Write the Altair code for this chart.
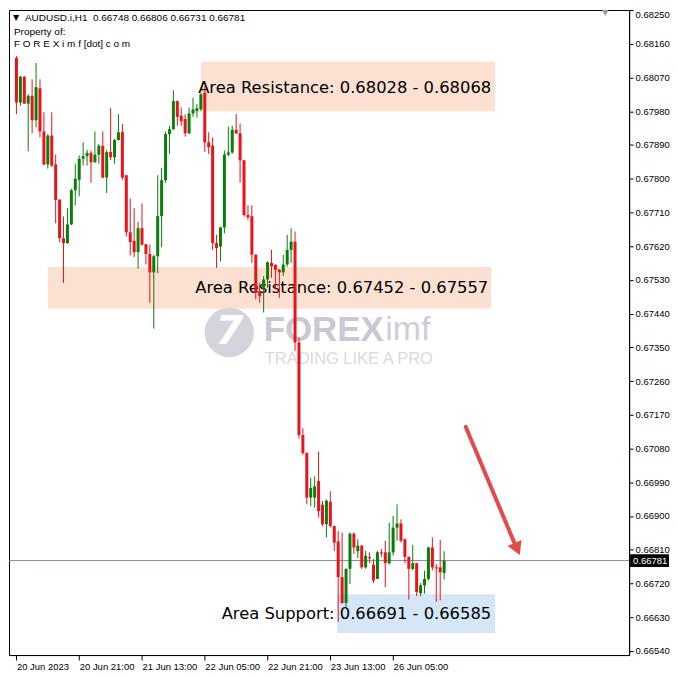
import altair as alt
import pandas as pd

# ---------------- data (AUDUSD.i H1 candles) ----------------
opens = [
    0.68122, 0.68003, 0.68072, 0.68000, 0.68021, 0.67956, 0.68041, 0.67926, 0.67838, 0.67915,
    0.67838, 0.67744, 0.67641, 0.67628, 0.67678, 0.67769, 0.67797, 0.67853, 0.67860, 0.67869,
    0.67844, 0.67864, 0.67888, 0.67803, 0.67871, 0.67857, 0.67903, 0.67924, 0.67809, 0.67657,
    0.67634, 0.67604, 0.67668, 0.67625, 0.67599, 0.67550, 0.67593, 0.67700, 0.67796, 0.67919,
    0.67932, 0.68007, 0.67968, 0.67959, 0.67921, 0.67974, 0.67980, 0.67985, 0.68029, 0.67897,
    0.67888, 0.67628, 0.67619, 0.67670, 0.67864, 0.67870, 0.67930, 0.67921, 0.67849, 0.67703,
    0.67700, 0.67597, 0.67500, 0.67509, 0.67531, 0.67575, 0.67570, 0.67557, 0.67550, 0.67571,
    0.67610, 0.67632, 0.67363, 0.67116, 0.67068, 0.66949, 0.66949, 0.66993, 0.66930, 0.66878,
    0.66938, 0.66873, 0.66832, 0.66737, 0.66668, 0.66759, 0.66853, 0.66806, 0.66821, 0.66763,
    0.66790, 0.66770, 0.66732, 0.66803, 0.66803, 0.66774, 0.66803, 0.66869, 0.66880, 0.66838,
    0.66791, 0.66759, 0.66774, 0.66694, 0.66715, 0.66732, 0.66816, 0.66763, 0.66763, 0.66748]

highs = [
    0.68127, 0.68074, 0.68074, 0.68025, 0.68065, 0.68109, 0.68065, 0.67977, 0.67919, 0.67977,
    0.67864, 0.67745, 0.67699, 0.67721, 0.67773, 0.67840, 0.67862, 0.67897, 0.67877, 0.67875,
    0.67926, 0.67893, 0.67926, 0.67877, 0.67988, 0.67906, 0.67972, 0.67946, 0.67810, 0.67747,
    0.67721, 0.67685, 0.67734, 0.67626, 0.67624, 0.67597, 0.67809, 0.67829, 0.67926, 0.67941,
    0.68036, 0.68008, 0.67990, 0.67972, 0.67990, 0.68016, 0.67999, 0.68029, 0.68046, 0.67924,
    0.67910, 0.67650, 0.67672, 0.67875, 0.67939, 0.67941, 0.67972, 0.67947, 0.67850, 0.67729,
    0.67729, 0.67598, 0.67522, 0.67540, 0.67579, 0.67610, 0.67571, 0.67559, 0.67597, 0.67650,
    0.67668, 0.67659, 0.67376, 0.67134, 0.67070, 0.67002, 0.67006, 0.67072, 0.66940, 0.66944,
    0.66966, 0.66874, 0.66860, 0.66856, 0.66760, 0.66856, 0.66856, 0.66838, 0.66822, 0.66807,
    0.66803, 0.66785, 0.66807, 0.66812, 0.66834, 0.66882, 0.66900, 0.66931, 0.66891, 0.66840,
    0.66792, 0.66823, 0.66775, 0.66721, 0.66754, 0.66818, 0.66843, 0.66772, 0.66836, 0.66806]

lows = [
    0.67972, 0.67994, 0.67999, 0.67873, 0.67921, 0.67937, 0.67910, 0.67835, 0.67827, 0.67831,
    0.67681, 0.67630, 0.67522, 0.67626, 0.67676, 0.67729, 0.67753, 0.67835, 0.67835, 0.67789,
    0.67842, 0.67840, 0.67801, 0.67762, 0.67849, 0.67840, 0.67902, 0.67797, 0.67646, 0.67595,
    0.67591, 0.67560, 0.67621, 0.67571, 0.67469, 0.67400, 0.67548, 0.67617, 0.67789, 0.67866,
    0.67930, 0.67941, 0.67941, 0.67912, 0.67919, 0.67965, 0.67963, 0.67980, 0.67871, 0.67866,
    0.67610, 0.67562, 0.67579, 0.67654, 0.67860, 0.67866, 0.67919, 0.67789, 0.67699, 0.67690,
    0.67575, 0.67478, 0.67469, 0.67443, 0.67509, 0.67535, 0.67504, 0.67482, 0.67540, 0.67565,
    0.67575, 0.67341, 0.67107, 0.67063, 0.66931, 0.66926, 0.66922, 0.66896, 0.66873, 0.66843,
    0.66869, 0.66807, 0.66618, 0.66666, 0.66657, 0.66719, 0.66798, 0.66788, 0.66759, 0.66759,
    0.66774, 0.66721, 0.66732, 0.66791, 0.66710, 0.66770, 0.66794, 0.66834, 0.66829, 0.66774,
    0.66677, 0.66755, 0.66686, 0.66686, 0.66693, 0.66728, 0.66755, 0.66671, 0.66675, 0.66731]

closes = [
    0.68003, 0.68072, 0.68000, 0.68021, 0.67956, 0.68044, 0.67926, 0.67838, 0.67915, 0.67835,
    0.67743, 0.67641, 0.67628, 0.67678, 0.67769, 0.67800, 0.67853, 0.67860, 0.67869, 0.67844,
    0.67864, 0.67888, 0.67803, 0.67871, 0.67857, 0.67903, 0.67924, 0.67803, 0.67657, 0.67631,
    0.67604, 0.67668, 0.67624, 0.67599, 0.67550, 0.67593, 0.67700, 0.67796, 0.67919, 0.67932,
    0.68007, 0.67965, 0.67953, 0.67921, 0.67974, 0.67985, 0.67988, 0.68025, 0.67897, 0.67884,
    0.67628, 0.67615, 0.67670, 0.67864, 0.67870, 0.67930, 0.67921, 0.67849, 0.67703, 0.67697,
    0.67597, 0.67496, 0.67487, 0.67531, 0.67577, 0.67566, 0.67557, 0.67550, 0.67571, 0.67610,
    0.67632, 0.67363, 0.67116, 0.67068, 0.66949, 0.66975, 0.66979, 0.66913, 0.66878, 0.66941,
    0.66873, 0.66829, 0.66737, 0.66668, 0.66759, 0.66853, 0.66816, 0.66821, 0.66763, 0.66794,
    0.66787, 0.66728, 0.66803, 0.66800, 0.66774, 0.66803, 0.66869, 0.66880, 0.66834, 0.66791,
    0.66759, 0.66774, 0.66697, 0.66715, 0.66732, 0.66816, 0.66763, 0.66760, 0.66750, 0.66781]

time_tick_bars = [0, 16, 32, 48, 64, 80, 96]
time_tick_labels = ["20 Jun 2023", "20 Jun 21:00", "21 Jun 13:00", "22 Jun 05:00",
                    "22 Jun 21:00", "23 Jun 13:00", "26 Jun 05:00"]
price_ticks = [0.68250, 0.68160, 0.68070, 0.67980, 0.67890, 0.67800, 0.67710, 0.67620,
               0.67530, 0.67440, 0.67350, 0.67260, 0.67170, 0.67080, 0.66990, 0.66900,
               0.66810, 0.66720, 0.66630, 0.66540]

zone_labels = ["Area Resistance: 0.68028 - 0.68068",
               "Area Resistance: 0.67452 - 0.67557",
               "Area Support: 0.66691 - 0.66585"]
zone_top = [0.68112, 0.67564, 0.66691]
zone_bottom = [0.67980, 0.67453, 0.66588]

last_price = closes[-1]

# ---------------- layout ----------------
W, H = 622, 647
FONT = "Liberation Sans"
UP, DOWN = "#0B7D0B", "#E8131B"

x_scale = alt.Scale(domain=[-0.625, 154.875], nice=False, zero=False)
y_scale = alt.Scale(domain=[0.66529, 0.68250], nice=False, zero=False)

label_arr = "[" + ",".join("'" + s + "'" for s in time_tick_labels) + "]"
x_axis = alt.Axis(values=time_tick_bars, labelExpr=label_arr + "[round(datum.value/16)]",
                  title=None, grid=False, orient="bottom", labelAlign="left",
                  labelBaseline="top", labelFlush=False, labelOverlap=False,
                  tickSize=5, labelPadding=1, domainColor="black", tickColor="black",
                  labelColor="black", labelFont=FONT, labelFontSize=9.5)
y_axis = alt.Axis(values=price_ticks, format=".5f", title=None, grid=False, orient="right",
                  labelFlush=True, labelOverlap=False, tickSize=4, labelPadding=2,
                  domainColor="black", tickColor="black", labelColor="black",
                  labelFont=FONT, labelFontSize=9.5)


def X(field):
    return alt.X(field, type="quantitative", scale=x_scale, axis=x_axis)


def Y(field):
    return alt.Y(field, type="quantitative", scale=y_scale, axis=y_axis)


df = pd.DataFrame({"i": list(range(len(opens))), "open": opens, "high": highs,
                   "low": lows, "close": closes})
df["dir"] = ["up" if c >= o else "down" for o, c in zip(opens, closes)]
df["btop"] = [max(o, c) for o, c in zip(opens, closes)]
df["bbot"] = [min(min(o, c), max(o, c) - 0.00003) for o, c in zip(opens, closes)]

color = alt.Color("dir:N", scale=alt.Scale(domain=["up", "down"], range=[UP, DOWN]), legend=None)

# zone boxes
zones = pd.DataFrame({"label": zone_labels, "top": zone_top, "bottom": zone_bottom,
                      "x1": [47, 8, 81.75], "x2": [122, 121, 122],
                      "tx": [121, 120.25, 121],
                      "ty": [0.68041, 0.67509, 0.66638],
                      "fill": ["#FCE0D2", "#FCE0D2", "#D5E7F7"]})

boxes = alt.Chart(zones).mark_rect().encode(
    x=X("x1"), x2="x2", y=Y("top"), y2="bottom",
    color=alt.Color("fill:N", scale=None))

zone_text = alt.Chart(zones).mark_text(align="right", baseline="middle", font="DejaVu Sans",
                                       fontSize=16.4, color="black").encode(
    x=X("tx"), y=Y("ty"), text="label:N")

# watermark
wm = pd.DataFrame({"x": [54.25], "y": [0.67390]})
wm_circle = alt.Chart(wm).mark_point(shape="circle", filled=True, size=2450,
                                     color="#D4D5DC", opacity=1).encode(x=X("x"), y=Y("y"))
wm_seven = alt.Chart(wm).mark_text(text="7", font="DejaVu Sans", fontWeight="bold",
                                   fontStyle="italic", fontSize=40, color="white",
                                   baseline="middle", align="center").encode(x=X("x"), y=Y("y"))
wm_txt = pd.DataFrame({"x": [63.0, 94.0, 63.3], "y": [0.67395, 0.67395, 0.67318],
                       "t": ["FOREX", "imf", "TRADING LIKE A PRO"],
                       "c": ["#C8C9D2", "#CDCED6", "#D9D9DF"],
                       "w": ["bold", "normal", "normal"],
                       "s": [35, 34, 16.5]})
wm_text = alt.layer(*[
    alt.Chart(wm_txt.iloc[[k]]).mark_text(align="left", baseline="middle", font=FONT,
                                          fontWeight=wm_txt.w[k], fontSize=float(wm_txt.s[k]),
                                          color=wm_txt.c[k]).encode(x=X("x"), y=Y("y"), text="t:N")
    for k in range(3)])

# current price line
pl = pd.DataFrame({"p": [last_price], "ptop": [last_price + 0.00017],
                   "pbot": [last_price - 0.00017], "lbl": ["%.5f" % last_price]})
price_line = alt.Chart(pl).mark_rule(color="#7E8C9C", strokeWidth=1).encode(
    y=Y("p"), x=alt.value(0), x2=alt.value(W))
price_box = alt.Chart(pl).mark_rect(color="black").encode(
    y=Y("ptop"), y2="pbot", x=alt.value(W + 1), x2=alt.value(W + 40))
price_lbl = alt.Chart(pl).mark_text(align="left", baseline="middle", font=FONT, fontSize=9.5,
                                    color="white").encode(
    y=Y("p"), x=alt.value(W + 4), text="lbl:N")

# candles
wicks = alt.Chart(df).mark_rule(strokeWidth=1).encode(x=X("i"), y=Y("low"), y2="high", color=color)
bodies = alt.Chart(df).mark_bar(size=3).encode(x=X("i"), y=Y("btop"), y2="bbot", color=color)

# arrow
arr = pd.DataFrame({"x": [114.5], "y": [0.67138], "x2": [127.0], "y2": [0.66826]})
arrow_line = alt.Chart(arr).mark_rule(color="#E24A4C", strokeWidth=4, strokeCap="round").encode(
    x=X("x"), y=Y("y"), x2="x2", y2="y2")
head = pd.DataFrame({"x": [127.6], "y": [0.66812]})
arrow_head = alt.Chart(head).mark_point(shape="triangle-up", filled=True, size=230, angle=157,
                                        color="#E24A4C", opacity=1).encode(x=X("x"), y=Y("y"))

# header texts
hdr = pd.DataFrame({"a": [0]})
header_line = "AUDUSD.i,H1\u00a0\u00a0%.5f %.5f %.5f %.5f" % (opens[-1], highs[-1], lows[-1], closes[-1])
h_tri = alt.Chart(hdr).mark_text(text="\u25BC", font="DejaVu Sans", fontSize=8, color="black",
                                 align="center", baseline="middle").encode(
    x=alt.value(7), y=alt.value(8))
h1 = alt.Chart(hdr).mark_text(text=header_line, font=FONT, fontSize=10, color="black",
                              align="left", baseline="middle").encode(
    x=alt.value(16), y=alt.value(8))
h2 = alt.Chart(hdr).mark_text(text="Property of:", font=FONT, fontSize=10, color="black",
                              align="left", baseline="middle").encode(
    x=alt.value(5), y=alt.value(22))
h3 = alt.Chart(hdr).mark_text(text="F O R E X i m f [dot] c o m", font=FONT, fontSize=10,
                              color="black", align="left", baseline="middle").encode(
    x=alt.value(5), y=alt.value(34))
marker = alt.Chart(hdr).mark_point(shape="triangle-down", filled=True, size=45, color="#9C9C9C",
                                   opacity=1).encode(x=alt.value(598), y=alt.value(3))

chart = alt.layer(
    boxes, wm_circle, wm_seven, wm_text, zone_text, price_line,
    wicks, bodies, arrow_line, arrow_head, price_box, price_lbl,
    h_tri, h1, h2, h3, marker
).properties(width=W, height=H, background="white", padding=0).configure_view(
    stroke="black", strokeWidth=1
)

chart.save("out.html", embed_options={"renderer": "svg", "actions": False})
